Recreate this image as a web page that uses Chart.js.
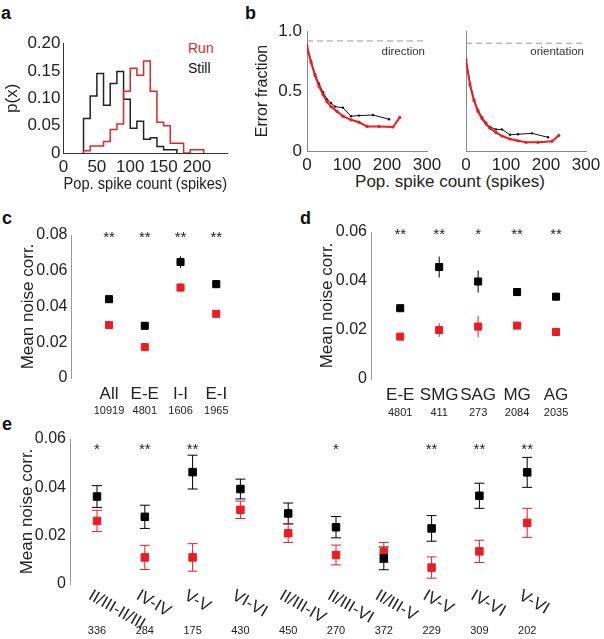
<!DOCTYPE html>
<html>
<head>
<meta charset="utf-8">
<script src="https://cdn.jsdelivr.net/npm/chart.js@4.4.1/dist/chart.umd.min.js"></script>
<style>
body { margin:0; background:#fff; width:604px; height:639px; position:relative; overflow:hidden;
       font-family:"Liberation Sans", Arial, sans-serif; }
canvas { position:absolute; }
.panel { position:absolute; font-weight:bold; font-size:18px; color:#111; line-height:1; }
.txt { position:absolute; white-space:nowrap; line-height:1; }
</style>
</head>
<body>
<div class="panel" style="left:1px;top:4px">a</div>
<div class="panel" style="left:245px;top:4px">b</div>
<div class="panel" style="left:2px;top:209px">c</div>
<div class="panel" style="left:300px;top:209px">d</div>
<div class="panel" style="left:2px;top:415px">e</div>
<div class="txt" style="left:188px;top:41px;font-size:14px;color:#e8232a">Run</div>
<div class="txt" style="left:188px;top:61px;font-size:14px;color:#111">Still</div>
<div class="txt" style="left:450px;top:181px;font-size:17px;color:#222;transform:translate(-50%,-50%)">Pop. spike count (spikes)</div>

<script>
const RED = '#ed1c24';
const FONT = '"Liberation Sans", Arial, sans-serif';

// ---- panel a: population spike count histograms
const binEdges = [30, 40, 50, 60, 70, 80, 90, 100, 110, 120, 130, 140, 150, 160, 170, 180, 190, 200, 210];
const runHist = [0.004, 0.004, 0.013, 0.013, 0.021, 0.043, 0.053, 0.113, 0.155, 0.142, 0.168, 0.113, 0.056, 0.05, 0.018, 0.018, 0, 0.006];
const stillHist = [0.045, 0.063, 0.104, 0.145, 0.087, 0.127, 0.149, 0.098, 0.045, 0.058, 0.025, 0.028, 0.012, 0.006];

// ---- panel b: decoding error vs spike count
const dirRunX = [0, 10, 20, 30, 40, 50, 60, 75, 90, 110, 130, 150, 180, 215, 232];
const dirRunY = [0.87, 0.74, 0.63, 0.54, 0.47, 0.41, 0.37, 0.33, 0.29, 0.26, 0.24, 0.205, 0.205, 0.2, 0.28];
const dirStillX = [0, 10, 20, 30, 40, 50, 60, 70, 90, 110, 130, 165, 205];
const dirStillY = [0.88, 0.75, 0.64, 0.56, 0.49, 0.43, 0.4, 0.37, 0.36, 0.29, 0.295, 0.3, 0.265];
const oriRunX = [0, 10, 20, 30, 40, 50, 60, 75, 90, 110, 130, 150, 180, 215, 232];
const oriRunY = [0.76, 0.55, 0.42, 0.33, 0.27, 0.225, 0.19, 0.155, 0.125, 0.1, 0.085, 0.072, 0.072, 0.082, 0.13];
const oriStillX = [0, 10, 20, 30, 40, 50, 60, 75, 90, 110, 130, 165, 205];
const oriStillY = [0.76, 0.56, 0.43, 0.34, 0.28, 0.235, 0.2, 0.18, 0.18, 0.135, 0.14, 0.147, 0.114];
const chanceLevel = [0.917, 0.898];   // direction, orientation

// ---- panel c
const cCats = ['All', 'E-E', 'I-I', 'E-I'];
const cCounts = ['10919', '4801', '1606', '1965'];
const cStill = [0.0441, 0.0292, 0.0649, 0.0525];
const cStillErr = [0.001, 0.001, 0.0032, 0.0017];
const cRun = [0.0296, 0.0173, 0.0506, 0.0359];
const cRunErr = [0.0008, 0.0008, 0.0025, 0.0012];
const cStars = ['**', '**', '**', '**'];

// ---- panel d
const dCats = ['E-E', 'SMG', 'SAG', 'MG', 'AG'];
const dCounts = ['4801', '411', '273', '2084', '2035'];
const dStill = [0.0289, 0.0457, 0.0398, 0.0355, 0.0336];
const dStillErr = [0.001, 0.0043, 0.0045, 0.0012, 0.0012];
const dRun = [0.0173, 0.02, 0.0214, 0.0218, 0.0192];
const dRunErr = [0.0008, 0.0028, 0.0044, 0.0009, 0.0012];
const dStars = ['**', '**', '*', '**', '**'];

// ---- panel e
const eCats = ['II/III-II/III', 'IV-IV', 'V-V', 'VI-VI', 'II/III-IV', 'II/III-VI', 'II/III-V', 'IV-V', 'IV-VI', 'V-VI'];
const eCounts = ['336', '284', '175', '430', '450', '270', '372', '229', '309', '202'];
const eStill = [0.0362, 0.0278, 0.0463, 0.0393, 0.0292, 0.0235, 0.0106, 0.023, 0.0365, 0.0462];
const eStillErr = [0.0045, 0.0048, 0.007, 0.0041, 0.0043, 0.0044, 0.0047, 0.0053, 0.0052, 0.0062];
const eRun = [0.0261, 0.011, 0.011, 0.0307, 0.021, 0.012, 0.0131, 0.0068, 0.0135, 0.0253];
const eRunErr = [0.0044, 0.005, 0.0057, 0.0036, 0.0038, 0.0041, 0.0041, 0.0044, 0.0046, 0.006];
const eStars = ['*', '**', '**', '', '', '*', '', '**', '**', '**'];

// make a chart whose plot area lands on given page pixels
function makeChart(box, area, cfg) {
    const cv = document.createElement('canvas');
    cv.width = box.w; cv.height = box.h;
    cv.style.left = box.x + 'px'; cv.style.top = box.y + 'px';
    cv.style.width = box.w + 'px'; cv.style.height = box.h + 'px';
    document.body.appendChild(cv);
    const o = cfg.options;
    o.responsive = false;
    o.animation = false;
    o.devicePixelRatio = 1;
    o.layout = { padding: { left: 0, bottom: 0, top: area.t - box.y, right: box.x + box.w - area.r } };
    o.plugins = Object.assign({ legend: { display: false }, tooltip: { enabled: false } }, o.plugins || {});
    o.scales.x.afterFit = s => { s.height = box.y + box.h - area.b; s.paddingLeft = 0; s.paddingRight = 0; };
    o.scales.y.afterFit = s => { s.width = area.l - box.x; s.paddingTop = 0; s.paddingBottom = 0; };
    return new Chart(cv, cfg);
}

function histPoints(edges, vals) {
    const pts = [{ x: edges[0], y: 0 }];
    vals.forEach((v, i) => pts.push({ x: edges[i], y: v }));
    pts.push({ x: edges[vals.length], y: vals[vals.length - 1] });
    pts.push({ x: edges[vals.length], y: 0 });
    return pts;
}

function xy(xs, ys) { return xs.map((x, i) => ({ x: x, y: ys[i] })); }

function tickFont(size) { return { family: FONT, size: size }; }

// error bars, stars, counts and rotated labels
function annot(opt) {
    return {
        id: 'annot',
        beforeDatasetsDraw(chart) {
            const ctx = chart.ctx, ys = chart.scales.y;
            chart.data.datasets.forEach((ds, i) => {
                if (!ds.errors) return;
                const meta = chart.getDatasetMeta(i);
                ctx.save();
                ctx.strokeStyle = ds.borderColor;
                ctx.lineWidth = 1;
                meta.data.forEach((pt, j) => {
                    const v = ds.data[j].y, e = ds.errors[j];
                    const y1 = ys.getPixelForValue(v + e), y2 = ys.getPixelForValue(v - e);
                    ctx.beginPath();
                    ctx.moveTo(pt.x, y1); ctx.lineTo(pt.x, y2);
                    if (opt.cap) {
                        ctx.moveTo(pt.x - opt.cap / 2, y1); ctx.lineTo(pt.x + opt.cap / 2, y1);
                        ctx.moveTo(pt.x - opt.cap / 2, y2); ctx.lineTo(pt.x + opt.cap / 2, y2);
                    }
                    ctx.stroke();
                });
                ctx.restore();
            });
        },
        afterDraw(chart) {
            const ctx = chart.ctx, xs = chart.scales.x, ys = chart.scales.y;
            ctx.save();
            ctx.fillStyle = '#222';
            ctx.textAlign = 'center';
            ctx.textBaseline = 'middle';
            if (opt.stars) {
                ctx.font = '15px ' + FONT;
                const sy = ys.getPixelForValue(opt.starLevel) + 3;
                opt.stars.forEach((s, i) => ctx.fillText(s, xs.getPixelForValue(i + 1), sy));
            }
            if (opt.counts) {
                ctx.font = '11px ' + FONT;
                opt.counts.forEach((c, i) => ctx.fillText(c, xs.getPixelForValue(i + 1), opt.countY));
            }
            if (opt.rotLabels) {
                ctx.font = '17px ' + FONT;
                ctx.textAlign = 'left';
                ctx.textBaseline = 'top';
                opt.rotLabels.forEach((t, i) => {
                    ctx.save();
                    ctx.translate(xs.getPixelForValue(i + 1) - 3, chart.chartArea.bottom + 3);
                    ctx.rotate(Math.PI / 6);
                    ctx.fillText(t, 0, 0);
                    ctx.restore();
                });
            }
            if (opt.note) {
                ctx.font = '11.5px ' + FONT;
                ctx.textAlign = 'right';
                ctx.fillStyle = '#333';
                ctx.fillText(opt.note, chart.chartArea.right - 2, chart.chartArea.top + 21);
            }
            ctx.restore();
        }
    };
}

// ---------------- panel a
makeChart({ x: 0, y: 28, w: 240, h: 177 }, { l: 63.5, r: 227, t: 43.5, b: 153 }, {
    type: 'line',
    data: {
        datasets: [
            { data: histPoints(binEdges, runHist), borderColor: '#e8232a', borderWidth: 1.5, stepped: 'after', pointRadius: 0 },
            { data: histPoints(binEdges, stillHist), borderColor: '#222', borderWidth: 1.5, stepped: 'after', pointRadius: 0 }
        ]
    },
    options: {
        scales: {
            x: {
                type: 'linear', min: 0, max: 245,
                grid: { display: false, drawTicks: false },
                border: { color: '#333' },
                ticks: { stepSize: 50, includeBounds: false, font: tickFont(17), color: '#222', padding: 4 },
                title: { display: true, text: 'Pop. spike count (spikes)', font: tickFont(17), color: '#222', padding: { top: 0, bottom: 10.8 } }
            },
            y: {
                min: 0, max: 0.2,
                grid: { display: false, drawTicks: false },
                border: { color: '#333' },
                ticks: { stepSize: 0.05, font: tickFont(17), color: '#222', padding: 3 },
                title: { display: true, text: 'p(x)', font: tickFont(17), color: '#222', padding: { top: 2.3, bottom: 0 } }
            }
        }
    }
});

// ---------------- panel b
function errorChart(box, area, runPts, stillPts, chance, note, showY) {
    return makeChart(box, area, {
        type: 'line',
        data: {
            datasets: [
                { data: runPts, borderColor: RED, backgroundColor: RED, borderWidth: 2, pointRadius: 1.6, pointBorderWidth: 0, tension: 0 },
                { data: stillPts, borderColor: '#111', backgroundColor: '#111', borderWidth: 1, pointRadius: 1.2, pointBorderWidth: 0, tension: 0 },
                { data: [{ x: 0, y: chance }, { x: 300, y: chance }], borderColor: '#999', borderWidth: 1, borderDash: [6, 4], pointRadius: 0 }
            ]
        },
        options: {
            scales: {
                x: {
                    type: 'linear', min: 0, max: 300,
                    grid: { display: false, drawTicks: false },
                    border: { color: '#888' },
                    ticks: { stepSize: 100, font: tickFont(17), color: '#222', padding: 4 }
                },
                y: {
                    min: 0, max: 1,
                    grid: { display: false, drawTicks: false },
                    border: { color: '#888' },
                    ticks: { display: showY, stepSize: 0.5, font: tickFont(17), color: '#222', padding: 5 },
                    title: { display: showY, text: 'Error fraction', font: tickFont(16), color: '#222', padding: { top: 13.4, bottom: 0 } }
                }
            }
        },
        plugins: [annot({ note: note })]
    });
}
errorChart({ x: 240, y: 18, w: 218, h: 187 }, { l: 307, r: 427, t: 31, b: 151 },
    xy(dirRunX, dirRunY), xy(dirStillX, dirStillY), chanceLevel[0], 'direction', true);
errorChart({ x: 440, y: 18, w: 164, h: 187 }, { l: 466, r: 586, t: 31, b: 151 },
    xy(oriRunX, oriRunY), xy(oriStillX, oriStillY), chanceLevel[1], 'orientation', false);

// ---------------- panels c, d, e
function corrChart(box, area, cfg) {
    const idx = cfg.cats.map((c, i) => i + 1);
    return makeChart(box, area, {
        type: 'scatter',
        data: {
            datasets: [
                { data: xy(idx, cfg.still), errors: cfg.stillErr, borderColor: '#000', backgroundColor: '#000',
                  pointStyle: 'rect', pointRadius: cfg.r, borderWidth: 1 },
                { data: xy(idx, cfg.run), errors: cfg.runErr, borderColor: RED, backgroundColor: RED,
                  pointStyle: 'rect', pointRadius: cfg.r, borderWidth: 1 }
            ]
        },
        options: {
            scales: {
                x: {
                    type: 'linear', min: cfg.xmin, max: cfg.xmax,
                    grid: { display: false, drawTicks: false },
                    border: { display: false },
                    afterBuildTicks: s => { s.ticks = idx.map(v => ({ value: v })); },
                    ticks: { display: !cfg.rotate, autoSkip: false, maxRotation: 0, font: tickFont(17), color: '#222', padding: 6,
                             callback: v => cfg.cats[v - 1] }
                },
                y: {
                    min: 0, max: cfg.ymax,
                    grid: { display: false, drawTicks: false },
                    border: { color: '#999' },
                    ticks: { stepSize: 0.02, font: tickFont(16), color: '#222', padding: 4 },
                    title: { display: true, text: 'Mean noise corr.', font: tickFont(17), color: '#222', padding: { top: cfg.titlePad, bottom: 0 } }
                }
            }
        },
        plugins: [annot({ stars: cfg.stars, starLevel: cfg.starLevel, counts: cfg.counts, countY: cfg.countY,
                          cap: cfg.cap, rotLabels: cfg.rotate ? cfg.cats : null })]
    });
}

corrChart({ x: 0, y: 205, w: 260, h: 215 }, { l: 71.5, r: 252, t: 235, b: 378 }, {
    cats: cCats, counts: cCounts, still: cStill, stillErr: cStillErr, run: cRun, runErr: cRunErr,
    stars: cStars, starLevel: 0.08, countY: 206, xmin: -0.05, xmax: 5, ymax: 0.08, r: 5, cap: 0, titlePad: 17.8
});
corrChart({ x: 300, y: 205, w: 304, h: 215 }, { l: 371, r: 595, t: 232, b: 379 }, {
    cats: dCats, counts: dCounts, still: dStill, stillErr: dStillErr, run: dRun, runErr: dRunErr,
    stars: dStars, starLevel: 0.06, countY: 208, xmin: 0.25, xmax: 6, ymax: 0.06, r: 5, cap: 0, titlePad: 16.8
});
corrChart({ x: 0, y: 420, w: 604, h: 219 }, { l: 70, r: 575, t: 439, b: 584 }, {
    cats: eCats, counts: eCounts, still: eStill, stillErr: eStillErr, run: eRun, runErr: eRunErr,
    stars: eStars, starLevel: 0.0567, countY: 211, xmin: 0.435, xmax: 11, ymax: 0.06, r: 5.3, cap: 10, titlePad: 16.8,
    rotate: true
});
</script>
</body>
</html>
